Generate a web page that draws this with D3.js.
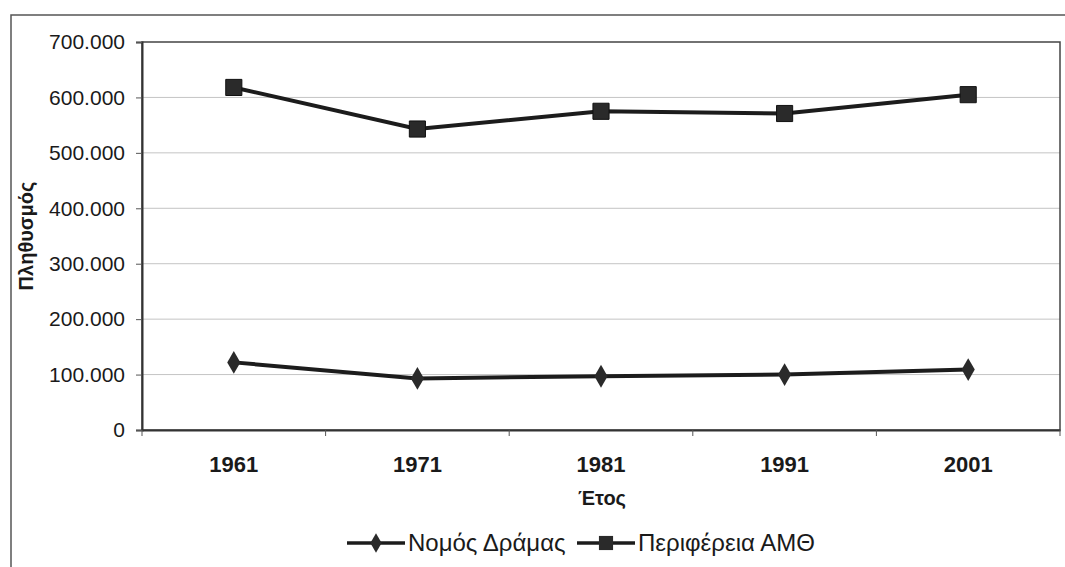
<!DOCTYPE html>
<html>
<head>
<meta charset="utf-8">
<script src="https://cdn.jsdelivr.net/npm/d3@7"></script>
<style>
  body { margin: 0; background: #fff; }
  text { font-family: "Liberation Sans", Arial, sans-serif; fill: #1a1a1a; }
</style>
</head>
<body>
<script>
// data
const years = ["1961", "1971", "1981", "1991", "2001"];
const drama = [122000, 93000, 97000, 100000, 109000];
const amth = [618000, 543000, 575000, 571000, 605000];
const yTicks = [0, 100000, 200000, 300000, 400000, 500000, 600000, 700000];
const seriesNames = ["Νομός Δράμας", "Περιφέρεια ΑΜΘ"];

const w = 1065;
const h = 567;
const plot = {left: 142, top: 42, right: 1060, bottom: 430};

let svg = d3.select("body")
          .append("svg")
          .attr("width", w)
          .attr("height", h);

// outer frame
svg.append("path")
   .attr("d", "M11,567 L11,15 L1065,15")
   .attr("fill", "none")
   .attr("stroke", "#555")
   .attr("stroke-width", 1.5);

let xScale = d3.scaleBand()
          .domain(years)
          .range([plot.left, plot.right]);
let yScale = d3.scaleLinear()
          .domain([0, 700000])
          .range([plot.bottom, plot.top]);

// gridlines
svg.append("g")
   .selectAll("line")
   .data(yTicks.slice(1, -1))
   .enter()
   .append("line")
   .attr("x1", plot.left)
   .attr("x2", plot.right)
   .attr("y1", function(d) { return yScale(d); })
   .attr("y2", function(d) { return yScale(d); })
   .attr("stroke", "#c4c4c4")
   .attr("stroke-width", 1);

// plot border
svg.append("rect")
   .attr("x", plot.left)
   .attr("y", plot.top)
   .attr("width", plot.right - plot.left)
   .attr("height", plot.bottom - plot.top)
   .attr("fill", "none")
   .attr("stroke", "#444")
   .attr("stroke-width", 1.5);

// axes
let yAxis = d3.axisLeft(yScale)
          .tickValues(yTicks)
          .tickSize(6)
          .tickPadding(11)
          .tickFormat(function(d) { return d === 0 ? "0" : (d / 1000) + ".000"; });
let yg = svg.append("g")
   .attr("transform", "translate(" + plot.left + ",0)")
   .call(yAxis);
yg.select(".domain").attr("stroke", "#333").attr("stroke-width", 2);
yg.selectAll(".tick line").attr("stroke", "#555");
yg.selectAll("text")
  .style("font-size", "21px")
  .attr("fill", "#1a1a1a");

let xAxis = d3.axisBottom(xScale).tickSize(0).tickPadding(26);
let xg = svg.append("g")
   .attr("transform", "translate(0," + plot.bottom + ")")
   .call(xAxis);
xg.select(".domain").attr("stroke", "#333").attr("stroke-width", 2);
xg.selectAll("text")
  .style("font-size", "22px")
  .style("font-weight", "bold")
  .attr("fill", "#1a1a1a");
// tick marks at band boundaries
xg.selectAll(".bound")
  .data(years.concat(["end"]))
  .enter()
  .append("line")
  .attr("x1", function(d, i) { return plot.left + i * xScale.bandwidth(); })
  .attr("x2", function(d, i) { return plot.left + i * xScale.bandwidth(); })
  .attr("y1", 0)
  .attr("y2", 6)
  .attr("stroke", "#555");

// axis labels
svg.append("text")
   .attr("x", (plot.left + plot.right) / 2 + 1)
   .attr("y", 505)
   .style("text-anchor", "middle")
   .style("font-size", "20px")
   .style("font-weight", "bold")
   .text("Έτος");
svg.append("text")
   .attr("transform", "translate(33," + ((plot.top + plot.bottom) / 2) + ") rotate(-90)")
   .style("text-anchor", "middle")
   .style("font-size", "20px")
   .style("font-weight", "bold")
   .text("Πληθυσμός");

// lines
let line = d3.line()
          .x(function(d, i) { return xScale(years[i]) + xScale.bandwidth() / 2; })
          .y(function(d) { return yScale(d); });

[drama, amth].forEach(function(series) {
  svg.append("path")
     .datum(series)
     .attr("d", line)
     .attr("fill", "none")
     .attr("stroke", "#1c1c1c")
     .attr("stroke-width", 4);
});

let diamond = d3.symbol().type(d3.symbolDiamond).size(150);
let square = d3.symbol().type(d3.symbolSquare).size(260);

svg.append("g")
   .selectAll("path")
   .data(drama)
   .enter()
   .append("path")
   .attr("d", diamond)
   .attr("transform", function(d, i) {
     return "translate(" + (xScale(years[i]) + xScale.bandwidth() / 2) + "," + yScale(d) + ")";
   })
   .attr("fill", "#2a2a2a");

svg.append("g")
   .selectAll("path")
   .data(amth)
   .enter()
   .append("path")
   .attr("d", square)
   .attr("transform", function(d, i) {
     return "translate(" + (xScale(years[i]) + xScale.bandwidth() / 2) + "," + yScale(d) + ")";
   })
   .attr("fill", "#2a2a2a")
   .attr("stroke", "#111")
   .attr("stroke-width", 1);

// legend
let legend = svg.append("g").attr("transform", "translate(347,543)");
let legendX = [0, 230];
seriesNames.forEach(function(name, i) {
  let g = legend.append("g").attr("transform", "translate(" + legendX[i] + ",0)");
  g.append("line")
   .attr("x1", 0).attr("x2", 58)
   .attr("y1", 0).attr("y2", 0)
   .attr("stroke", "#1c1c1c")
   .attr("stroke-width", 3.5);
  g.append("path")
   .attr("d", i === 0 ? d3.symbol().type(d3.symbolDiamond).size(110) : d3.symbol().type(d3.symbolSquare).size(200))
   .attr("transform", "translate(29,0)")
   .attr("fill", "#2a2a2a");
  g.append("text")
   .attr("x", 61)
   .attr("y", 8)
   .style("font-size", "24px")
   .text(name);
});
</script>
</body>
</html>
